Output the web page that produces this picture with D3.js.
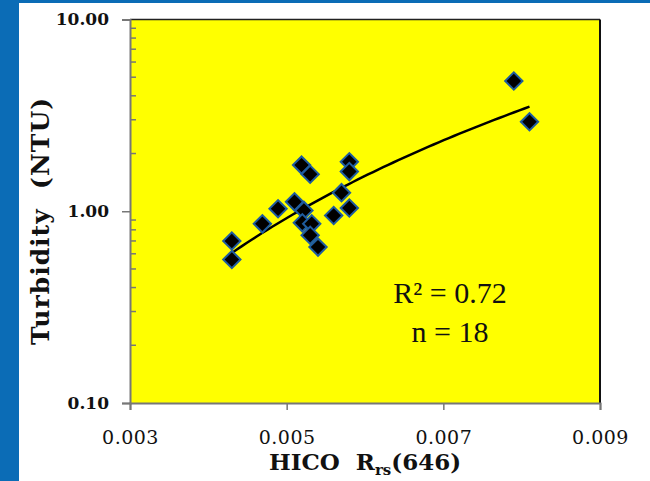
<!DOCTYPE html>
<html>
<head>
<meta charset="utf-8">
<script src="https://cdn.jsdelivr.net/npm/d3@7"></script>
<style>
  body { margin: 0; background: #fff; }
  svg { display: block; }
</style>
</head>
<body>
<div id="chart"></div>
<script>
// HICO Rrs(646) vs turbidity
var rrs = [0.00430, 0.00430, 0.00469, 0.00489, 0.00510, 0.00519, 0.00530, 0.00522,
           0.00520, 0.00532, 0.00530, 0.00540, 0.00560, 0.00570, 0.00580, 0.00580,
           0.00580, 0.00790, 0.00810];
var ntu = [0.70, 0.56, 0.86, 1.03, 1.12, 1.74, 1.56, 1.01,
           0.87, 0.86, 0.75, 0.65, 0.95, 1.25, 1.81, 1.61,
           1.04, 4.78, 2.93];
var xTicks = [0.003, 0.005, 0.007, 0.009];
var yTicks = [0.1, 1, 10];
var statLines = ["R\u00b2 = 0.72", "n = 18"];

var W = 650, H = 481;
var plot = { left: 130, top: 19.5, right: 600, bottom: 403 };

var svg = d3.select("#chart").append("svg")
    .attr("width", W)
    .attr("height", H);

// slide background: blue frame on the left and top
svg.append("rect").attr("width", W).attr("height", H).attr("fill", "#0b6cb6");
svg.append("rect").attr("x", 19).attr("y", 3).attr("width", W - 19).attr("height", H - 3)
    .attr("fill", "#fff");

var x = d3.scaleLinear().domain([0.003, 0.009]).range([plot.left, plot.right]);
var y = d3.scaleLog().domain([0.1, 10]).range([plot.bottom, plot.top]);

svg.append("rect")
    .attr("x", plot.left).attr("y", plot.top)
    .attr("width", plot.right - plot.left).attr("height", plot.bottom - plot.top)
    .attr("fill", "#ffff00");

// top and right frame lines
svg.append("line").attr("x1", plot.left).attr("x2", plot.right)
    .attr("y1", plot.top).attr("y2", plot.top)
    .attr("stroke", "#222").attr("stroke-width", 1.5);
svg.append("line").attr("x1", plot.right).attr("x2", plot.right)
    .attr("y1", plot.top).attr("y2", plot.bottom)
    .attr("stroke", "#111").attr("stroke-width", 2);

// minor ticks on the log axis, pointing inward
var minors = [];
[0.1, 1].forEach(function (d) {
    for (var k = 2; k <= 9; k++) minors.push(d * k);
});
svg.append("g").selectAll("line")
    .data(minors).enter().append("line")
    .attr("x1", plot.left).attr("x2", plot.left + 6)
    .attr("y1", function (d) { return y(d); })
    .attr("y2", function (d) { return y(d); })
    .attr("stroke", "#777").attr("stroke-width", 1.5);

var yAxis = svg.append("g")
    .attr("transform", "translate(" + plot.left + ",0)")
    .call(d3.axisLeft(y).tickValues(yTicks).tickSize(8).tickPadding(13)
        .tickFormat(d3.format(".2f")));

var xAxis = svg.append("g")
    .attr("transform", "translate(0," + plot.bottom + ")")
    .call(d3.axisBottom(x).tickValues(xTicks).tickSize(7).tickPadding(21)
        .tickFormat(d3.format(".3f")));

[yAxis, xAxis].forEach(function (g) {
    g.select(".domain").attr("stroke", "#777").attr("stroke-width", 2);
    g.selectAll(".tick line").attr("stroke", "#777").attr("stroke-width", 1.5);
    g.selectAll("text")
        .attr("fill", "#111")
        .style("font-family", "'DejaVu Serif', serif");
});
yAxis.selectAll("text").style("font-size", "17px").style("font-weight", "bold");
xAxis.selectAll("text").style("font-size", "19px").style("letter-spacing", "0.5px");

// power trendline, least squares in log-log space as the spreadsheet does it
var lx = rrs.map(Math.log), ly = ntu.map(Math.log);
var mx = d3.mean(lx), my = d3.mean(ly);
var b = d3.sum(lx, function (d, i) { return (d - mx) * (ly[i] - my); }) /
        d3.sum(lx, function (d) { return (d - mx) * (d - mx); });
var a = Math.exp(my - b * mx);
var xs = d3.range(60).map(function (i) {
    var lo = d3.min(rrs), hi = d3.max(rrs);
    return lo + (hi - lo) * i / 59;
});
var lineFunction = d3.line()
    .x(function (d) { return x(d); })
    .y(function (d) { return y(a * Math.pow(d, b)); });
svg.append("path")
    .attr("d", lineFunction(xs))
    .attr("fill", "none")
    .attr("stroke", "#000")
    .attr("stroke-width", 2.5);

// diamond markers
var diamond = d3.symbol().type(d3.symbolSquare).size(150);
svg.append("g").selectAll("path")
    .data(rrs).enter().append("path")
    .attr("d", diamond)
    .attr("transform", function (d, i) {
        return "translate(" + x(d) + "," + y(ntu[i]) + ") rotate(45)";
    })
    .attr("fill", "#000")
    .attr("stroke", "#1f5c9e")
    .attr("stroke-width", 2);

svg.append("g").selectAll("text")
    .data(statLines).enter().append("text")
    .attr("x", 450)
    .attr("y", function (d, i) { return 303 + i * 39; })
    .attr("text-anchor", "middle")
    .style("font-family", "'Liberation Serif', serif")
    .style("font-size", "30px")
    .attr("fill", "#111")
    .text(function (d) { return d; });

// axis titles (double spaces kept as in the original)
svg.append("text")
    .attr("transform", "translate(49,221) rotate(-90)")
    .attr("text-anchor", "middle")
    .style("font-family", "'DejaVu Serif', serif")
    .style("font-size", "25px")
    .style("font-weight", "bold")
    .style("letter-spacing", "1px")
    .style("white-space", "pre")
    .attr("fill", "#111")
    .text("Turbidity  (NTU)");

var xt = svg.append("text")
    .attr("x", 365).attr("y", 470)
    .attr("text-anchor", "middle")
    .style("font-family", "'DejaVu Serif', serif")
    .style("font-size", "23px")
    .style("font-weight", "bold")
    .style("white-space", "pre")
    .attr("fill", "#111");
xt.append("tspan").text("HICO  R");
xt.append("tspan").attr("dy", 5).style("font-size", "15px").text("rs");
xt.append("tspan").attr("dy", -5).text("(646)");
</script>
</body>
</html>
